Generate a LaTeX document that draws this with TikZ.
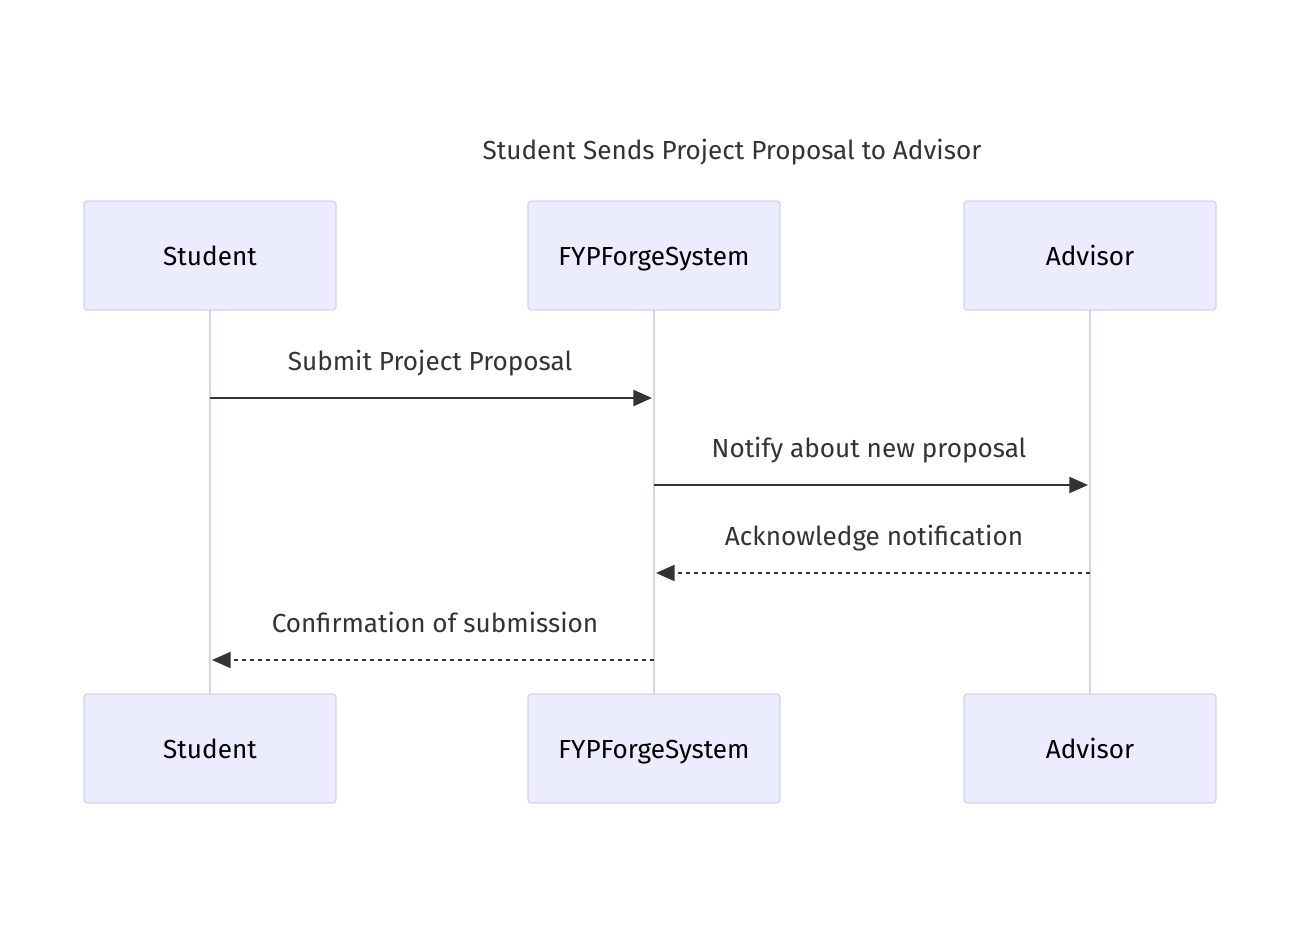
\documentclass[tikz,border=0pt]{standalone}
\usepackage{fontspec}
\setmainfont{Fira Sans}
\usetikzlibrary{arrows.meta}
\definecolor{actfill}{HTML}{ECECFF}
\definecolor{actline}{HTML}{DACEF3}
\definecolor{msgcol}{HTML}{333333}

\begin{document}
\begin{tikzpicture}[x=0.75pt,y=-0.75pt, >={Triangle[length=14pt,width=12pt]},
	font=\fontsize{19.6}{23}\selectfont, line join=round,
	actor/.style={draw=actline, fill=actfill, line width=1pt, rounded corners=2.5pt,
		minimum width=189pt, minimum height=81.75pt, inner sep=0pt, text=black,
		text height=16pt, text depth=1.5pt},
	life/.style={draw=actline, line width=2pt},
	msg/.style={draw=msgcol, line width=1.7pt, ->},
	reply/.style={msg, dash pattern=on 3.2pt off 2.8pt},
	lbl/.style={text=msgcol, text height=16pt, text depth=1.5pt}]
	\useasboundingbox[fill=white] (0,0) rectangle (1300,939);
	\def\xa{210} \def\xb{654} \def\xc{1090} % lifelines
	\def\ytop{255.5} \def\ybot{748.5}
	\node[lbl] (title) at (732,150) {Student Sends Project Proposal to Advisor};
	% lifelines first, boxes over them
	\draw[life] (\xa,\ytop) -- (\xa,\ybot);
	\draw[life] (\xb,\ytop) -- (\xb,\ybot);
	\draw[life] (\xc,\ytop) -- (\xc,\ybot);
	\node[actor] (stu) at (\xa,\ytop) {Student};
	\node[actor] (sys) at (\xb,\ytop) {FYPForgeSystem};
	\node[actor] (adv) at (\xc,\ytop) {Advisor};
	\node[actor] (stuB) at (\xa,\ybot) {Student};
	\node[actor] (sysB) at (\xb,\ybot) {FYPForgeSystem};
	\node[actor] (advB) at (\xc,\ybot) {Advisor};
	% messages
	\coordinate (s1) at (\xa,398); \coordinate (f1) at (\xb-2,398);
	\coordinate (f2) at (\xb,485); \coordinate (a2) at (\xc-2,485);
	\coordinate (a3) at (\xc,573); \coordinate (f3) at (\xb+2,573);
	\coordinate (f4) at (\xb,660); \coordinate (s4) at (\xa+2,660);
	\draw[msg] (s1) -- (f1);
	\node[lbl] (m1) at (430,361) {Submit Project Proposal};
	\draw[msg] (f2) -- (a2);
	\node[lbl] (m2) at (869,448) {Notify about new proposal};
	\draw[reply] (a3) -- (f3);
	\node[lbl] (m3) at (874,536) {Acknowledge notification};
	\draw[reply] (f4) -- (s4);
	\node[lbl] (m4) at (435,623) {Confirmation of submission};
\end{tikzpicture}
\end{document}
